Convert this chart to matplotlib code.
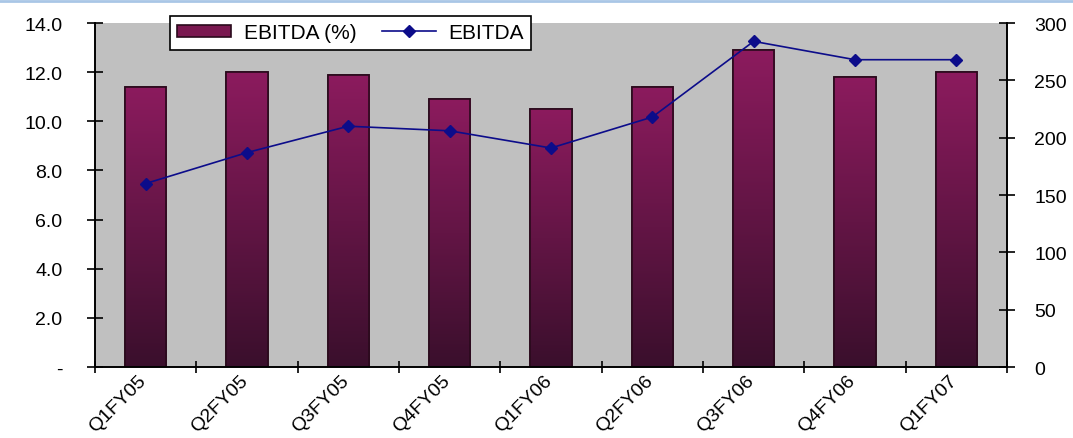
import numpy as np
import matplotlib.pyplot as plt
from matplotlib.colors import LinearSegmentedColormap
from matplotlib.lines import Line2D
from matplotlib.ticker import FuncFormatter
from matplotlib.transforms import ScaledTranslation

quarters = ["Q1FY05", "Q2FY05", "Q3FY05", "Q4FY05", "Q1FY06",
            "Q2FY06", "Q3FY06", "Q4FY06", "Q1FY07"]
ebitda_pct = [11.4, 12.0, 11.9, 10.9, 10.5, 11.4, 12.9, 11.8, 12.0]
ebitda = [160, 187, 210, 206, 191, 218, 284, 268, 268]

plt.rcParams['font.family'] = ['Liberation Sans', 'DejaVu Sans']

fig = plt.figure(figsize=(10.73, 4.39), dpi=100)
ax = fig.add_axes([0.0885, 0.1617, 0.85, 0.7836])
ax.set_facecolor('#c0c0c0')

x = np.arange(len(quarters))
bars = ax.bar(x, ebitda_pct, width=0.41, color='#7a1850',
              edgecolor='#2a0a1c', linewidth=1.2, zorder=2,
              label='EBITDA (%)')

# vertical purple gradient inside each bar
grad_cmap = LinearSegmentedColormap.from_list('bar', ['#3a0f2c', '#8c1b5e'])
grad = np.linspace(0, 1, 256).reshape(-1, 1)
for b in bars:
    x0, y0 = b.get_x(), b.get_y()
    im = ax.imshow(grad, cmap=grad_cmap, origin='lower', aspect='auto',
                   extent=(x0, x0 + b.get_width(), y0, y0 + b.get_height()),
                   zorder=2.1)
    im.set_clip_path(b)
    # redraw the outline on top
    ax.bar(b.get_x() + b.get_width() / 2, b.get_height(), width=b.get_width(),
           fill=False, edgecolor='#2a0a1c', linewidth=1.2, zorder=2.2)

ax.set_xlim(-0.5, len(quarters) - 0.5)
ax.set_ylim(0, 14)
ax.set_yticks(np.arange(0, 14.1, 2))
ax.yaxis.set_major_formatter(FuncFormatter(lambda v, p: '-' if v == 0 else f'{v:.1f}'))

ax.set_xticks(x)
ax.set_xticklabels(quarters, rotation=45, ha='right', rotation_mode='anchor')
ax.set_xticks(np.arange(-0.5, len(quarters), 1), minor=True)
ax.tick_params(axis='x', which='major', length=0, pad=3, labelsize=14)
ax.tick_params(axis='x', which='minor', direction='inout', length=9, width=1.2)
ax.tick_params(axis='y', direction='inout', length=11, width=1.2,
               labelsize=14, pad=18)
shift = ScaledTranslation(-8 / 100, 0, fig.dpi_scale_trans)
for lab in ax.get_xticklabels():
    lab.set_transform(lab.get_transform() + shift)

ax2 = ax.twinx()
ax2.set_ylim(0, 300)
ax2.set_yticks(np.arange(0, 301, 50))
ax2.tick_params(axis='y', direction='inout', length=11, width=1.2,
                labelsize=14, pad=14)
ax2.plot(x, ebitda, color='#0c0c8a', linewidth=1.2, marker='D',
         markersize=6, label='EBITDA', zorder=3)

for a in (ax, ax2):
    a.spines['top'].set_visible(False)
    for s in ('left', 'right', 'bottom'):
        a.spines[s].set_linewidth(1.2)
        a.spines[s].set_color('black')

h1, l1 = ax.get_legend_handles_labels()
h2, l2 = ax2.get_legend_handles_labels()
leg = ax2.legend(h1[:1] + h2, l1[:1] + l2, ncol=2, loc='upper left',
                 bbox_to_anchor=(170 / 1073, 1 - 17 / 439),
                 bbox_transform=fig.transFigure, fontsize=15,
                 frameon=True, fancybox=False, edgecolor='black',
                 borderpad=0.35, handlelength=2.6, handleheight=0.55,
                 columnspacing=1.2, handletextpad=0.6, borderaxespad=0)
leg.get_frame().set_linewidth(1.2)
leg.get_frame().set_facecolor('white')
leg.get_frame().set_alpha(1)

# thin blue rule along the top of the figure
fig.add_artist(Line2D([0, 1], [0.996, 0.996], color='#a9c6e6',
                      linewidth=2, transform=fig.transFigure))

fig.savefig('out.png', dpi=100)
